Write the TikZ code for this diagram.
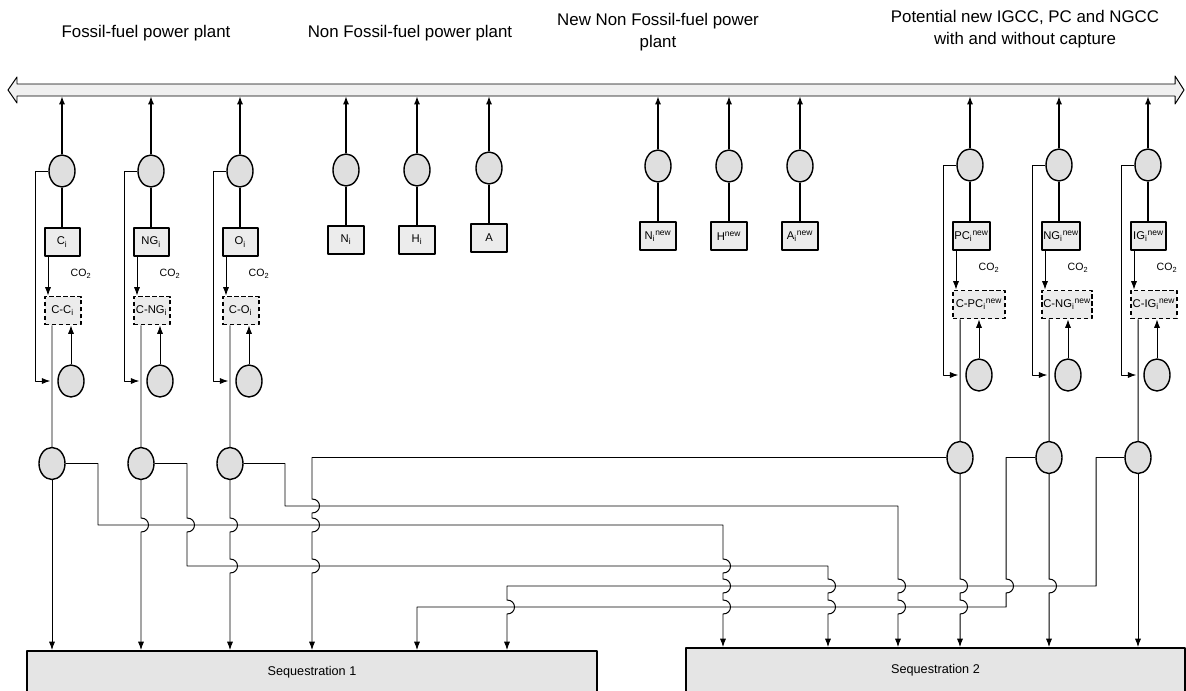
\documentclass[tikz,border=0pt]{standalone}
\usepackage{fontspec}
\setmainfont{Liberation Sans}
\usetikzlibrary{shapes.geometric,arrows.meta,calc}
\newcommand{\hopsat}[2]{\foreach \h in {#2}{-- (#1 |- 0,\h-7) .. controls +(10,0) and +(10,0) .. (#1 |- 0,\h+7)}}
\begin{document}
\begin{tikzpicture}[x=0.025cm, y=-0.025cm, line width=0.7pt, line join=round, >={Latex[length=6pt,width=4.4pt]},
	bub/.style={ellipse, draw, line width=1pt, fill=gray!25, inner sep=0pt, minimum width=0.65cm, minimum height=0.8cm},
	plant/.style={rectangle, draw, line width=1.3pt, fill=gray!15, inner sep=1pt, minimum width=0.88cm, minimum height=0.7cm, font=\fontsize{8}{9}\selectfont},
	capt/.style={plant, dash pattern=on 3pt off 2pt},
	co/.style={font=\fontsize{7.5}{8}\selectfont},
	seq/.style={rectangle, draw, line width=1.3pt, fill=gray!20, font=\fontsize{9}{10}\selectfont},
	ttl/.style={align=center, font=\fontsize{12}{15.5}\selectfont}]
	\useasboundingbox (0,0) rectangle (1186,691);
	\node[ttl] (t1) at (146,33) {Fossil-fuel power plant};
	\node[ttl] (t2) at (410,33) {Non Fossil-fuel power plant};
	\node[ttl] (t3) at (658,32) {New Non Fossil-fuel power\\plant};
	\node[ttl] (t4) at (1025,29) {Potential new IGCC, PC and NGCC\\with and without capture};
	\draw[fill=gray!12] (8,90) -- (17,77) -- (17,84) -- (1175,84) -- (1175,76) -- (1184,90) -- (1175,104) -- (1175,96) -- (17,96) -- (17,103) -- cycle;
	\coordinate (bandb) at (0,96);
	\foreach \n/\L/\dy/\w/\p/\s in {c/44/0/0.9cm/C/, ng/133/0/0.9cm/NG/, o/222/0/0.9cm/O/, pc/952/-6/1.3cm/PC/new, ngn/1041/-6/1.2cm/NG/new, ig/1130/-6/1.15cm/IG/new}{
		\node[bub] (t\n) at (\L+18,171+\dy) {};
		\node[plant, anchor=west] (b\n) at (\L,242+\dy) {\p\textsubscript{i}\textsuperscript{\s}};
		\node[capt, anchor=west, minimum width=\w] (d\n) at (\L,310.5+\dy) {C-\p\textsubscript{i}\textsuperscript{\s}};
		\node[co] (k\n) at (\L+37,274+\dy) {CO\textsubscript{2}};
		\node[bub] (m\n) at (\L+27,381+\dy) {};
		\node[bub] (s\n) at (\L+8,463.5+\dy) {};
		\draw[very thick, ->] (t\n) -- (t\n |- bandb);
		\draw[very thick] (t\n) -- (t\n |- b\n.north);
		\draw[->] ([xshift=0.1cm]b\n.south west) -- ([xshift=0.1cm]d\n.north west);
		\draw[->] (t\n.west) -- ++(-13,0) |- ($(m\n.west)+(-7,0)$);
		\draw ([xshift=0.2cm]d\n.south west) -- (s\n);
		\draw[->] (m\n) -- (m\n |- d\n.south);
	}
	\foreach \n/\x/\dy/\lab in {n/346/0/N\textsubscript{i}, h/417/0/H\textsubscript{i}, a/489/-2/A, nn/658/-4/N\textsubscript{i}\textsuperscript{new}, hn/729/-4/H\textsuperscript{new}, an/800/-4/A\textsubscript{i}\textsuperscript{new}}{
		\node[bub] (t\n) at (\x,170+\dy) {};
		\node[plant] (b\n) at (\x,240+\dy) {\lab};
		\draw[very thick, ->] (t\n) -- (t\n |- bandb);
		\draw[very thick] (t\n) -- (b\n);
	}
	\node[seq, minimum width=14.25cm, minimum height=1.05cm] (sq1) at (312,672) {Sequestration 1};
	\node[seq, minimum width=12.475cm, minimum height=1.1cm] (sq2) at (935.5,670) {Sequestration 2};
	\draw[->] (sc) -- (sc |- sq1.north);
	\draw[->] (sng.south) \hopsat{sng.south}{525} -- (sng.south |- sq1.north);
	\draw[->] (so.south) \hopsat{so.south}{525,566} -- (so.south |- sq1.north);
	\draw[->] (sc.east) -| (98,525) -- (723,525) \hopsat{723,0}{566,586,607} -- (723,0 |- sq2.north);
	\draw[->] (sng.east) -- (187,0 |- sng.east) \hopsat{187,0}{525} -- (187,566) -- (828,566) \hopsat{828,0}{586,607} -- (828,0 |- sq2.north);
	\draw[->] (so.east) -| (285,506) -- (898,506) \hopsat{898,0}{586,607} -- (898,0 |- sq2.north);
	\draw[->] (spc.west) -- (312,0 |- spc.west) \hopsat{312,0}{506,525,566} -- (312,0 |- sq1.north);
	\draw[->] (spc.south) \hopsat{spc.south}{586,607} -- (spc.south |- sq2.north);
	\draw[->] (sngn.west) -- (1006,0 |- sngn.west) \hopsat{1006,0}{586} -- (1006,607) -- (417,607) -- (417,0 |- sq1.north);
	\draw[->] (sngn.south) \hopsat{sngn.south}{586} -- (sngn.south |- sq2.north);
	\draw[->] (sig.west) -| (1096,586) -- (507,586) \hopsat{507,0}{607} -- (507,0 |- sq1.north);
	\draw[->] (sig) -- (sig |- sq2.north);
\end{tikzpicture}
\end{document}
